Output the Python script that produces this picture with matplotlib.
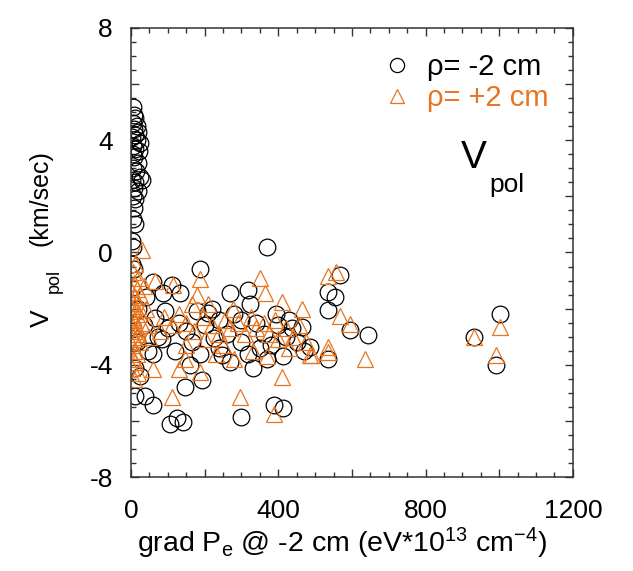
import matplotlib
matplotlib.use("Agg")
import matplotlib.pyplot as plt
from matplotlib.ticker import MultipleLocator, FuncFormatter

plt.rcParams['font.family'] = ['Liberation Sans', 'DejaVu Sans']
plt.rcParams['mathtext.fontset'] = 'custom'
plt.rcParams['mathtext.rm'] = 'Liberation Sans'
plt.rcParams['mathtext.it'] = 'Liberation Sans'

# rho = -2 cm probe: pressure gradient and poloidal velocity
grad_m2 = [5, 8, 12, 4, 15, 7, 20, 10, 3, 16, 25, 6, 12, 22, 4, 9, 18, 6, 14, 24,
           3, 11, 30, 8, 19, 5, 12, 7, 4, 10, 3, 5, 2, 8,
           187, 368, 567, 536, 554, 536, 595, 644, 536, 486, 463, 436, 414, 368,
           387, 414, 300, 106, 124, 142, 60, 11, 38, 11, 147, 192, 187, 246, 318,
           300, 224, 165, 83, 74, 65, 92, 178, 210, 323, 318, 269, 133, 88, 110, 60,
           1002, 932, 991,
           40, 20, 35, 15, 45, 25, 130, 150, 200, 240, 260, 280, 340, 360, 380,
           400, 420, 450, 470, 240, 350, 395, 430, 120, 60, 100, 270, 330, 160,
           220, 300]
vpol_m2 = [5.2, 4.9, 4.8, 4.6, 4.5, 4.4, 4.3, 4.2, 4.1, 4.0, 3.9, 3.8, 3.7, 3.6,
           3.5, 3.4, 3.2, 3.0, 2.9, 2.7, 2.6, 2.5, 2.6, 2.3, 2.2, 2.0, 1.9, 1.6,
           1.2, 1.0, 0.4, 0.2, -0.4, -0.6,
           -0.6, 0.2, -0.8, -1.4, -1.6, -2.05, -2.75, -2.95, -3.8, -3.35, -2.65,
           -2.7, -3.7, -3.8, -5.45, -5.55, -5.85, -6.1, -5.9, -6.05, -5.45, -5.1,
           -5.1, -4.1, -4.8, -4.55, -3.6, -3.65, -3.6, -3.2, -3.05, -3.2, -3.1,
           -3.0, -2.35, -2.1, -2.1, -2.15, -1.85, -1.35, -1.45, -1.45, -1.45,
           -1.15, -1.05,
           -2.2, -3.0, -4.0,
           -1.6, -2.0, -2.6, -3.2, -3.5, -4.4, -2.5, -2.8, -2.6, -2.4, -2.9, -2.2,
           -2.5, -2.9, -3.3, -2.6, -3.0, -3.2, -3.5, -3.4, -3.4, -2.2, -2.4, -3.5,
           -3.6, -2.7, -3.9, -4.1, -4.0, -2.0, -2.4]

# rho = +2 cm probe
grad_p2 = [30, 11, 5, 20, 8, 15, 3, 25, 10, 6, 18, 2, 12, 22, 5, 9, 28, 3, 15, 7,
           20, 4, 11, 25, 2, 8, 16, 5, 12, 3, 20, 8, 35, 40, 45, 50,
           187, 350, 536, 558, 178, 115, 65, 364, 409, 463, 278, 165, 208, 567,
           595, 536, 536, 635, 491, 486, 409, 368, 60, 129, 147, 187, 110, 296, 387,
           90, 110, 130, 150, 170, 195, 220, 240, 255, 270, 290, 310, 325, 340,
           360, 375, 390, 400, 420, 440, 455, 475, 250, 200, 150, 80, 330, 430,
           280, 230,
           1002, 932, 991]
vpol_p2 = [0.1, -0.4, -0.7, -0.9, -1.1, -1.3, -1.4, -1.5, -1.6, -1.8, -1.9, -2.0,
           -2.1, -2.2, -2.3, -2.4, -2.5, -2.6, -2.7, -2.8, -2.9, -3.0, -3.1, -3.2,
           -3.3, -3.5, -3.6, -3.8, -3.9, -4.1, -4.3, -4.5, -1.2, -2.0, -2.6, -3.0,
           -0.95, -0.9, -0.85, -0.7, -1.5, -1.15, -1.0, -1.45, -1.75, -2.0, -2.0,
           -1.85, -1.85, -2.25, -2.55, -3.35, -3.55, -3.8, -3.65, -3.65, -4.45,
           -3.7, -4.15, -4.15, -3.8, -4.25, -5.15, -5.15, -5.75,
           -2.3, -2.6, -2.2, -2.5, -2.8, -2.3, -2.6, -2.9, -2.4, -2.7, -2.5, -2.9,
           -2.3, -2.7, -2.5, -2.9, -2.4, -3.1, -2.7, -3.0, -2.6, -3.2, -3.3, -3.1,
           -3.3, -2.8, -3.5, -3.4, -3.8, -3.6,
           -2.65, -3.0, -3.65]

labels = ['ρ= -2 cm', 'ρ= +2 cm']
colors = ['black', '#E8741E']

W, H = 633, 571
fig = plt.figure(figsize=(W / 100, H / 100), dpi=100)
ax = fig.add_axes([0.207, 0.1646, 0.698, 0.7864])

ax.plot(grad_m2, vpol_m2, linestyle='none', marker='o', markersize=12,
        markerfacecolor='none', color=colors[0], markeredgewidth=0.9,
        label=labels[0])
ax.plot(grad_p2, vpol_p2, linestyle='none', marker='^', markersize=12,
        markerfacecolor='none', color=colors[1], markeredgewidth=0.9,
        label=labels[1])

ax.set_xlim(0, 1200)
ax.set_ylim(-8, 8)

ax.xaxis.set_major_locator(MultipleLocator(200))
ax.xaxis.set_minor_locator(MultipleLocator(50))
ax.yaxis.set_major_locator(MultipleLocator(2))
ax.yaxis.set_minor_locator(MultipleLocator(0.5))
ax.xaxis.set_major_formatter(FuncFormatter(lambda v, p: f'{v:.0f}' if round(v) % 400 == 0 else ''))
ax.yaxis.set_major_formatter(FuncFormatter(lambda v, p: f'{v:.0f}' if round(v) % 4 == 0 else ''))

ax.tick_params(which='both', direction='in', top=True, right=True,
               width=1.0, color='#333333')
ax.tick_params(which='major', length=6)
ax.tick_params(which='minor', length=3.5)
ax.tick_params(axis='x', which='major', labelsize=19, pad=16)
ax.tick_params(axis='y', which='major', labelsize=19, pad=13)
for s in ax.spines.values():
    s.set_linewidth(1.1)
    s.set_color('#333333')

# x-axis title
ax.set_xlabel(r'grad P$_{\mathrm{e}}$ @ -2 cm (eV*10$^{13}$ cm$^{-4}$)', fontsize=20.5)
ax.xaxis.label.set_va('baseline')
ax.xaxis.set_label_coords(0.478, -0.167)


def fig_xy(px, py):
    return px / W, 1 - py / H


# y-axis title, built from pieces so the subscript sits low
fig.text(*fig_xy(41, 198), '(km/sec)', rotation=90, fontsize=18, ha='center', va='center')
fig.text(*fig_xy(54, 281), 'pol', rotation=90, fontsize=13, ha='center', va='center')
fig.text(*fig_xy(42, 318), 'V', rotation=90, fontsize=19, ha='center', va='center')

leg = ax.legend(loc='upper right', bbox_to_anchor=(0.99, 0.99), frameon=False,
                fontsize=21, markerscale=0.85, handlelength=0.9, handletextpad=0.55,
                labelspacing=0.1, labelcolor='linecolor', borderaxespad=0.3)

# panel title
ax.text(*fig_xy(461, 168), 'V', transform=fig.transFigure, fontsize=28, ha='left', va='baseline')
ax.text(*fig_xy(489, 192), 'pol', transform=fig.transFigure, fontsize=19, ha='left', va='baseline')

fig.savefig('out.png', dpi=100)
